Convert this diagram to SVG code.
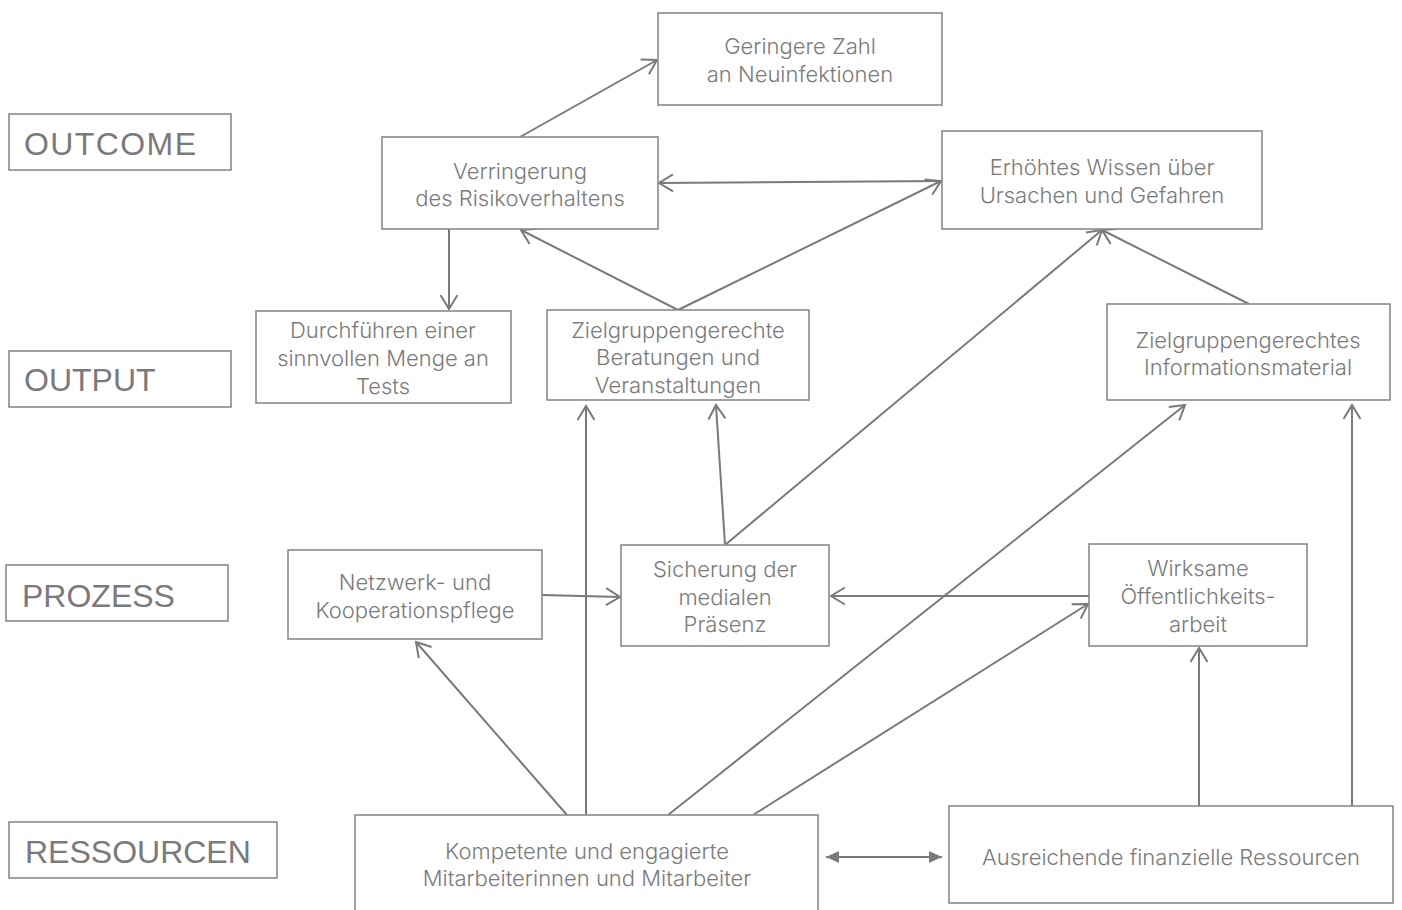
<svg xmlns="http://www.w3.org/2000/svg" width="1402" height="910" viewBox="0 0 1402 910">
<defs>
<style>
.bg{fill:#fff}
.box{fill:#fff;stroke:#8a8a8a;stroke-width:1.6}
.lbl{font-family:"Liberation Sans",Arial,sans-serif;font-size:32px;fill:#7a7a7a}
.t{font-family:Inter,"Open Sans","Liberation Sans",sans-serif;font-weight:300;font-size:22px;fill:#7a7a7a;text-anchor:middle;dominant-baseline:central}
.c{fill:none;stroke:#7a7a7a;stroke-width:2}
</style>
<marker id="ah" markerUnits="userSpaceOnUse" markerWidth="20" markerHeight="20" viewBox="-16 -10 18 20" refX="0" refY="0" orient="auto">
<path d="M-14,-8.5 L0,0 L-14,8.5" fill="none" stroke="#7a7a7a" stroke-width="2"/>
</marker>
<marker id="fh" markerUnits="userSpaceOnUse" markerWidth="20" markerHeight="20" viewBox="-16 -10 18 20" refX="0" refY="0" orient="auto-start-reverse">
<path d="M-13,-6 L0,0 L-13,6 Z" fill="#7a7a7a"/>
</marker>
</defs>
<rect class="bg" x="0" y="0" width="1402" height="910"/>

<g id="labels">
<g id="lbl-outcome"><rect class="box" x="9" y="114" width="222" height="56"/><text class="lbl" x="24" y="155" textLength="172">OUTCOME</text></g>
<g id="lbl-output"><rect class="box" x="9" y="351" width="222" height="56"/><text class="lbl" x="24" y="391">OUTPUT</text></g>
<g id="lbl-prozess"><rect class="box" x="6" y="565" width="222" height="56"/><text class="lbl" x="22" y="607">PROZESS</text></g>
<g id="lbl-ressourcen"><rect class="box" x="9" y="822" width="268" height="56"/><text class="lbl" x="25" y="863">RESSOURCEN</text></g>
</g>

<g id="connectors">
<line class="c" x1="520" y1="137" x2="657" y2="60" marker-end="url(#ah)"/>
<line class="c" x1="942" y1="181" x2="659" y2="183" marker-end="url(#ah)"/>
<line class="c" x1="678" y1="310" x2="521" y2="230" marker-end="url(#ah)"/>
<line class="c" x1="678" y1="310" x2="941" y2="181" marker-end="url(#ah)"/>
<line class="c" x1="449" y1="229" x2="449" y2="309" marker-end="url(#ah)"/>
<line class="c" x1="1249" y1="304" x2="1102" y2="230" marker-end="url(#ah)"/>
<line class="c" x1="725" y1="545" x2="1102" y2="230" marker-end="url(#ah)"/>
<line class="c" x1="725" y1="545" x2="716" y2="405" marker-end="url(#ah)"/>
<line class="c" x1="542" y1="595" x2="620" y2="597" marker-end="url(#ah)"/>
<line class="c" x1="1089" y1="596" x2="831" y2="596" marker-end="url(#ah)"/>
<line class="c" x1="567" y1="815" x2="416" y2="642" marker-end="url(#ah)"/>
<line class="c" x1="586" y1="815" x2="586" y2="406" marker-end="url(#ah)"/>
<line class="c" x1="668" y1="815" x2="1185" y2="405" marker-end="url(#ah)"/>
<line class="c" x1="753" y1="815" x2="1088" y2="604" marker-end="url(#ah)"/>
<line class="c" x1="1199" y1="806" x2="1199" y2="648" marker-end="url(#ah)"/>
<line class="c" x1="1352" y1="806" x2="1352" y2="405" marker-end="url(#ah)"/>
<line class="c" x1="826" y1="857" x2="942" y2="857" marker-start="url(#fh)" marker-end="url(#fh)"/>
</g>

<g id="n-geringere"><rect class="box" x="658" y="13" width="284" height="92"/><text class="t" x="800" y="46">Geringere Zahl</text><text class="t" x="800" y="74">an Neuinfektionen</text></g>
<g id="n-verringerung"><rect class="box" x="382" y="137" width="276" height="92"/><text class="t" x="520" y="171">Verringerung</text><text class="t" x="520" y="198">des Risikoverhaltens</text></g>
<g id="n-wissen"><rect class="box" x="942" y="131" width="320" height="98"/><text class="t" x="1102" y="167">Erhöhtes Wissen über</text><text class="t" x="1102" y="195">Ursachen und Gefahren</text></g>
<g id="n-tests"><rect class="box" x="256" y="311" width="255" height="92"/><text class="t" x="383" y="330">Durchführen einer</text><text class="t" x="383" y="358">sinnvollen Menge an</text><text class="t" x="383" y="386">Tests</text></g>
<g id="n-beratungen"><rect class="box" x="547" y="310" width="262" height="90"/><text class="t" x="678" y="330">Zielgruppengerechte</text><text class="t" x="678" y="357">Beratungen und</text><text class="t" x="678" y="385">Veranstaltungen</text></g>
<g id="n-info"><rect class="box" x="1107" y="304" width="283" height="96"/><text class="t" x="1248" y="340">Zielgruppengerechtes</text><text class="t" x="1248" y="367">Informationsmaterial</text></g>
<g id="n-netzwerk"><rect class="box" x="288" y="550" width="254" height="89"/><text class="t" x="415" y="582">Netzwerk- und</text><text class="t" x="415" y="610">Kooperationspflege</text></g>
<g id="n-sicherung"><rect class="box" x="621" y="545" width="208" height="101"/><text class="t" x="725" y="569">Sicherung der</text><text class="t" x="725" y="597">medialen</text><text class="t" x="725" y="624">Präsenz</text></g>
<g id="n-wirksame"><rect class="box" x="1089" y="544" width="218" height="102"/><text class="t" x="1198" y="568">Wirksame</text><text class="t" x="1198" y="596">Öffentlichkeits-</text><text class="t" x="1198" y="624">arbeit</text></g>
<g id="n-kompetente"><rect class="box" x="355" y="815" width="463" height="100"/><text class="t" x="587" y="851">Kompetente und engagierte</text><text class="t" x="587" y="878">Mitarbeiterinnen und Mitarbeiter</text></g>
<g id="n-finanzen"><rect class="box" x="949" y="806" width="444" height="97"/><text class="t" x="1171" y="857">Ausreichende finanzielle Ressourcen</text></g>
</svg>
